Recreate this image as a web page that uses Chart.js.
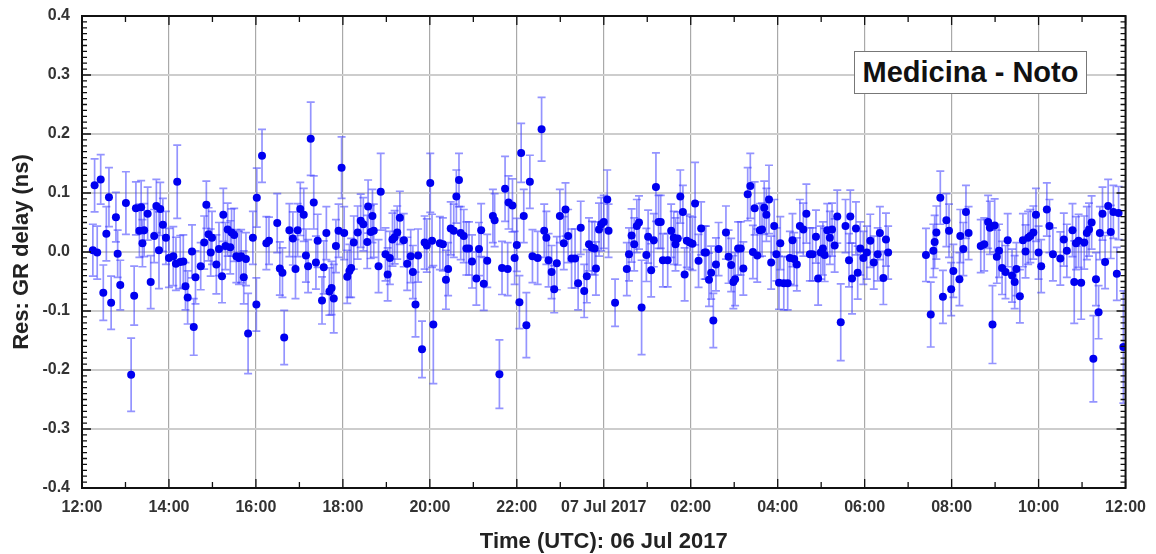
<!DOCTYPE html>
<html>
<head>
<meta charset="utf-8">
<script src="https://cdn.jsdelivr.net/npm/chart.js@4.4.1/dist/chart.umd.min.js"></script>
<style>
  body { margin: 0; background: #fff; }
  #wrap { position: relative; width: 1156px; height: 554px; }
  #baseline {
    position: absolute; left: 854px; top: 51px; width: 233px; height: 43px;
    box-sizing: border-box;
    border: 1.5px solid #777; background: #fff;
    font: bold 29px "Liberation Sans", Arial, sans-serif; color: #111;
    text-align: center; line-height: 40px; white-space: nowrap;
  }
</style>
</head>
<body>
<div id="wrap">
  <canvas id="chart" width="1156" height="554"></canvas>
  <div id="baseline">Medicina - Noto</div>
</div>
<script>
// hours since 06 Jul 2017 12:00 UTC
const timeHours = [
  0.25, 0.29, 0.35, 0.43, 0.49, 0.56, 0.62, 0.67, 0.78, 0.82, 0.88, 1.01, 1.13, 1.20, 1.24, 1.32, 1.36, 1.39, 1.43, 1.51,
  1.58, 1.66, 1.71, 1.77, 1.80, 1.86, 1.93, 2.00, 2.10, 2.16, 2.19, 2.26, 2.33, 2.38, 2.43, 2.53, 2.57, 2.61, 2.73, 2.81,
  2.86, 2.91, 2.96, 2.99, 3.09, 3.15, 3.22, 3.25, 3.30, 3.35, 3.41, 3.44, 3.50, 3.55, 3.61, 3.66, 3.72, 3.77, 3.82, 3.93,
  4.01, 4.02, 4.14, 4.24, 4.30, 4.49, 4.55, 4.61, 4.65, 4.77, 4.85, 4.91, 4.96, 5.02, 5.10, 5.15, 5.20, 5.26, 5.33, 5.38,
  5.42, 5.52, 5.56, 5.62, 5.69, 5.74, 5.79, 5.84, 5.90, 5.97, 6.03, 6.10, 6.15, 6.19, 6.25, 6.34, 6.41, 6.47, 6.56, 6.58,
  6.64, 6.68, 6.71, 6.82, 6.87, 6.98, 7.03, 7.08, 7.14, 7.19, 7.25, 7.31, 7.40, 7.48, 7.56, 7.61, 7.67, 7.73, 7.82, 7.88,
  7.93, 8.01, 8.05, 8.08, 8.23, 8.30, 8.37, 8.42, 8.48, 8.55, 8.61, 8.67, 8.71, 8.78, 8.84, 8.90, 8.97, 9.07, 9.13, 9.18,
  9.24, 9.32, 9.45, 9.49, 9.60, 9.66, 9.73, 9.79, 9.81, 9.90, 9.95, 10.00, 10.06, 10.10, 10.16, 10.22, 10.30, 10.36, 10.48, 10.57,
  10.63, 10.68, 10.73, 10.80, 10.86, 10.92, 10.99, 11.08, 11.12, 11.18, 11.26, 11.34, 11.41, 11.47, 11.55, 11.61, 11.66, 11.73, 11.79, 11.82,
  11.89, 11.94, 12.00, 12.08, 12.11, 12.26, 12.53, 12.58, 12.64, 12.70, 12.76, 12.81, 12.87, 12.98, 13.02, 13.09, 13.15, 13.20, 13.26, 13.31,
  13.36, 13.47, 13.55, 13.61, 13.65, 13.70, 13.76, 13.82, 13.86, 13.91, 13.98, 14.04, 14.10, 14.18, 14.24, 14.32, 14.35, 14.42, 14.47, 14.52,
  14.58, 14.64, 14.81, 14.87, 14.93, 14.98, 15.02, 15.09, 15.15, 15.21, 15.31, 15.37, 15.43, 15.47, 15.53, 15.59, 15.64, 15.69, 15.74, 15.80,
  15.85, 15.92, 15.97, 16.03, 16.06, 16.14, 16.23, 16.28, 16.34, 16.38, 16.44, 16.51, 16.59, 16.66, 16.74, 16.80, 16.88, 16.93, 16.99, 17.04,
  17.08, 17.14, 17.20, 17.25, 17.31, 17.37, 17.45, 17.56, 17.64, 17.67, 17.71, 17.80, 17.84, 17.90, 17.97, 18.05, 18.13, 18.21, 18.30, 18.35,
  18.43, 18.49, 18.54, 19.41, 19.52, 19.58, 19.61, 19.65, 19.74, 19.80, 19.88, 19.94, 19.99, 20.04, 20.18, 20.20, 20.27, 20.33, 20.39, 20.67,
  20.75, 20.84, 20.88, 20.94, 20.99, 21.04, 21.09, 21.16, 21.24, 21.29, 21.39, 21.45, 21.49, 21.57, 21.64, 21.70, 21.76, 21.81, 21.88, 21.94,
  22.00, 22.06, 22.19, 22.25, 22.33, 22.50, 22.58, 22.65, 22.78, 22.82, 22.86, 22.92, 22.98, 23.05, 23.11, 23.16, 23.22, 23.26, 23.32, 23.38,
  23.41, 23.47, 23.53, 23.60, 23.66, 23.72, 23.80, 23.84, 23.95
];

// GR delay residuals (ns)
const residuals = [
  0.003, 0.113, -0.001, 0.123, -0.069, 0.031, 0.093, -0.086, 0.059, -0.003, -0.056, 0.083, -0.208, -0.074, 0.074, 0.036, 0.076, 0.015, 0.037, 0.065,
  -0.051, 0.027, 0.078, 0.003, 0.073, 0.046, 0.024, -0.010, -0.007, -0.020, 0.119, -0.017, -0.016, -0.058, -0.077, 0.001, -0.127, -0.043, -0.024, 0.016,
  0.080, 0.030, -0.001, 0.024, -0.021, 0.005, -0.041, 0.063, 0.010, 0.038, 0.008, 0.033, 0.029, -0.007, -0.010, -0.007, -0.043, -0.012, -0.138, 0.024,
  -0.089, 0.092, 0.163, 0.015, 0.019, 0.049, -0.028, -0.035, -0.145, 0.037, 0.023, -0.029, 0.037, 0.073, 0.063, -0.006, -0.024, 0.192, 0.084, -0.018,
  0.019, -0.082, -0.026, 0.032, -0.067, -0.061, -0.079, 0.010, 0.036, 0.143, 0.032, -0.042, -0.032, -0.027, 0.016, 0.033, 0.053, 0.047, 0.017, 0.077,
  0.034, 0.061, 0.036, -0.024, 0.102, -0.004, -0.038, -0.010, 0.021, 0.025, 0.033, 0.058, 0.020, -0.020, -0.007, -0.034, -0.089, -0.006, -0.165, 0.016,
  0.011, 0.117, 0.019, -0.123, 0.015, 0.013, -0.047, -0.029, 0.040, 0.036, 0.094, 0.122, 0.032, 0.027, 0.006, 0.006, -0.016, -0.045, 0.005, 0.037,
  -0.054, -0.015, 0.061, 0.054, -0.207, -0.027, 0.107, -0.029, 0.084, 0.079, -0.010, 0.012, -0.085, 0.168, 0.061, -0.124, 0.119, -0.007, -0.010, 0.208,
  0.036, 0.024, -0.014, -0.034, -0.063, -0.019, 0.061, 0.015, 0.072, 0.027, -0.011, -0.011, -0.053, 0.041, -0.066, -0.041, 0.013, 0.007, 0.006, -0.028,
  0.038, 0.047, 0.051, 0.089, 0.036, -0.086, -0.029, -0.004, 0.028, 0.013, 0.044, 0.050, -0.094, -0.005, 0.026, -0.031, 0.020, 0.110, 0.051, 0.051,
  -0.014, -0.014, 0.036, 0.024, 0.013, 0.023, 0.094, 0.068, -0.038, 0.019, 0.016, 0.014, 0.082, -0.015, 0.040, -0.001, -0.001, -0.047, -0.035, -0.116,
  -0.021, 0.005, 0.033, -0.008, -0.022, -0.051, -0.046, 0.006, 0.006, -0.028, 0.098, 0.112, 0.000, 0.074, -0.006, 0.037, 0.038, 0.075, 0.063, 0.089,
  -0.018, 0.044, -0.004, -0.052, 0.015, -0.053, -0.053, -0.010, 0.020, -0.012, -0.021, 0.044, 0.038, 0.065, -0.004, -0.004, 0.026, -0.045, -0.001, 0.006,
  -0.005, 0.037, 0.024, 0.038, 0.011, 0.060, -0.119, 0.044, -0.014, 0.060, -0.045, 0.040, -0.035, 0.006, -0.010, -0.001, 0.019, -0.018, -0.004, 0.032,
  -0.044, 0.021, -0.001, -0.005, -0.106, 0.002, 0.017, 0.033, 0.092, -0.076, 0.054, 0.036, -0.063, -0.032, -0.046, 0.027, 0.005, 0.068, 0.032, 0.010,
  0.013, 0.051, 0.041, -0.123, 0.045, -0.008, 0.002, -0.027, -0.034, 0.020, -0.040, -0.051, -0.029, -0.075, 0.020, 0.001, 0.024, 0.027, 0.033, 0.063,
  -0.001, -0.024, 0.072, 0.044, -0.004, -0.011, 0.021, 0.002, 0.037, -0.051, 0.015, 0.019, -0.052, 0.016, 0.032, 0.038, 0.050, -0.181, -0.046, -0.102,
  0.032, 0.065, -0.017, 0.078, 0.034, 0.068, -0.037, 0.066, -0.161
];

// 1-sigma uncertainties (ns)
const errors = [
  0.044, 0.045, 0.045, 0.042, 0.047, 0.046, 0.050, 0.045, 0.042, 0.040, 0.042, 0.053, 0.062, 0.050, 0.045, 0.045, 0.045, 0.040, 0.045, 0.045,
  0.045, 0.045, 0.045, 0.065, 0.045, 0.045, 0.045, 0.050, 0.050, 0.045, 0.062, 0.045, 0.045, 0.040, 0.045, 0.045, 0.048, 0.045, 0.040, 0.045,
  0.040, 0.045, 0.040, 0.045, 0.050, 0.045, 0.045, 0.045, 0.040, 0.045, 0.045, 0.040, 0.045, 0.045, 0.045, 0.045, 0.045, 0.045, 0.068, 0.045,
  0.045, 0.050, 0.045, 0.045, 0.040, 0.050, 0.045, 0.042, 0.046, 0.045, 0.045, 0.050, 0.045, 0.045, 0.045, 0.045, 0.045, 0.062, 0.045, 0.045,
  0.045, 0.040, 0.045, 0.045, 0.040, 0.045, 0.058, 0.045, 0.045, 0.052, 0.045, 0.045, 0.045, 0.050, 0.045, 0.045, 0.045, 0.045, 0.045, 0.045,
  0.045, 0.045, 0.045, 0.045, 0.065, 0.045, 0.045, 0.045, 0.045, 0.045, 0.045, 0.045, 0.045, 0.045, 0.045, 0.045, 0.055, 0.045, 0.048, 0.045,
  0.045, 0.050, 0.045, 0.100, 0.045, 0.045, 0.050, 0.045, 0.045, 0.045, 0.045, 0.045, 0.045, 0.045, 0.045, 0.045, 0.045, 0.045, 0.045, 0.045,
  0.045, 0.045, 0.045, 0.045, 0.058, 0.045, 0.055, 0.045, 0.045, 0.045, 0.045, 0.045, 0.045, 0.050, 0.045, 0.055, 0.045, 0.045, 0.045, 0.054,
  0.045, 0.045, 0.045, 0.045, 0.040, 0.045, 0.045, 0.045, 0.045, 0.045, 0.050, 0.050, 0.045, 0.045, 0.045, 0.045, 0.045, 0.045, 0.045, 0.045,
  0.045, 0.045, 0.045, 0.050, 0.045, 0.040, 0.045, 0.045, 0.045, 0.045, 0.045, 0.045, 0.080, 0.045, 0.045, 0.045, 0.045, 0.058, 0.045, 0.045,
  0.045, 0.045, 0.045, 0.045, 0.045, 0.045, 0.045, 0.045, 0.045, 0.045, 0.045, 0.045, 0.070, 0.045, 0.045, 0.045, 0.045, 0.045, 0.045, 0.046,
  0.045, 0.045, 0.045, 0.045, 0.045, 0.045, 0.045, 0.045, 0.045, 0.045, 0.045, 0.055, 0.045, 0.045, 0.045, 0.045, 0.045, 0.045, 0.045, 0.058,
  0.045, 0.045, 0.045, 0.045, 0.045, 0.045, 0.045, 0.045, 0.045, 0.045, 0.045, 0.045, 0.045, 0.050, 0.045, 0.045, 0.045, 0.045, 0.045, 0.045,
  0.045, 0.045, 0.045, 0.045, 0.045, 0.045, 0.065, 0.045, 0.045, 0.045, 0.060, 0.045, 0.045, 0.045, 0.045, 0.045, 0.045, 0.045, 0.045, 0.045,
  0.045, 0.045, 0.045, 0.045, 0.055, 0.045, 0.045, 0.045, 0.045, 0.045, 0.045, 0.045, 0.045, 0.045, 0.045, 0.045, 0.045, 0.045, 0.045, 0.045,
  0.045, 0.045, 0.045, 0.066, 0.045, 0.045, 0.045, 0.045, 0.045, 0.045, 0.045, 0.045, 0.045, 0.045, 0.045, 0.045, 0.045, 0.045, 0.045, 0.045,
  0.045, 0.045, 0.045, 0.045, 0.045, 0.045, 0.045, 0.045, 0.045, 0.070, 0.045, 0.045, 0.062, 0.045, 0.045, 0.045, 0.045, 0.073, 0.045, 0.045,
  0.045, 0.045, 0.045, 0.045, 0.045, 0.045, 0.045, 0.045, 0.095
];

const xTickLabels = ['12:00', '14:00', '16:00', '18:00', '20:00', '22:00', '07 Jul 2017',
                     '02:00', '04:00', '06:00', '08:00', '10:00', '12:00'];

const points = timeHours.map((t, i) => ({x: t, y: residuals[i]}));

//error bars drawn under the points, from the same scales
const errorBars = {
  id: 'errorBars',
  beforeDatasetsDraw(chart) {
    const {ctx, chartArea, scales: {x, y}} = chart;
    ctx.save();
    ctx.beginPath();
    ctx.rect(chartArea.left, chartArea.top, chartArea.right - chartArea.left, chartArea.bottom - chartArea.top);
    ctx.clip();
    ctx.strokeStyle = 'rgba(60, 60, 255, 0.55)';
    ctx.lineWidth = 1.7;
    timeHours.forEach((t, i) => {
      const px = x.getPixelForValue(t);
      const top = y.getPixelForValue(residuals[i] + errors[i]);
      const bot = y.getPixelForValue(residuals[i] - errors[i]);
      ctx.beginPath();
      ctx.moveTo(px, top); ctx.lineTo(px, bot);
      ctx.moveTo(px - 4, top); ctx.lineTo(px + 4, top);
      ctx.moveTo(px - 4, bot); ctx.lineTo(px + 4, bot);
      ctx.stroke();
    });
    ctx.restore();
  }
};

//black frame with inward tick marks on all four sides
const frame = {
  id: 'frame',
  afterDraw(chart) {
    const {ctx, chartArea: {left, right, top, bottom}, scales: {x, y}} = chart;
    ctx.save();
    ctx.strokeStyle = '#111';
    ctx.lineWidth = 1.3;
    ctx.beginPath();
    for (let h = 0; h <= 24; h++) {
      const px = x.getPixelForValue(h);
      const len = h % 2 === 0 ? 9 : 6;
      ctx.moveTo(px, bottom); ctx.lineTo(px, bottom - len);
      ctx.moveTo(px, top); ctx.lineTo(px, top + len);
    }
    for (let k = -40; k <= 40; k++) {
      const py = y.getPixelForValue(k / 100);
      const len = k % 10 === 0 ? 9 : 5;
      ctx.moveTo(left, py); ctx.lineTo(left + len, py);
      ctx.moveTo(right, py); ctx.lineTo(right - len, py);
    }
    ctx.stroke();
    ctx.lineWidth = 2;
    ctx.strokeRect(left, top, right - left, bottom - top);
    ctx.restore();
  }
};

Chart.defaults.font.family = '"Liberation Sans", Arial, sans-serif';

new Chart(document.getElementById('chart'), {
  type: 'scatter',
  data: {
    datasets: [{
      data: points,
      backgroundColor: '#0000f0',
      borderWidth: 0,
      pointRadius: 4,
      pointHoverRadius: 4
    }]
  },
  options: {
    responsive: false,
    animation: false,
    layout: {padding: {top: 16, right: 24, left: 0, bottom: 0}},
    plugins: {legend: {display: false}, tooltip: {enabled: false}},
    scales: {
      x: {
        type: 'linear',
        min: 0,
        max: 24,
        afterFit: scale => { scale.height = 66; },
        grid: {color: '#a9a9a9', lineWidth: 1.2, drawTicks: false},
        border: {display: false},
        ticks: {
          stepSize: 2,
          autoSkip: false,
          maxRotation: 0,
          padding: 10,
          color: '#333',
          font: {size: 16, weight: 'bold'},
          callback: v => xTickLabels[Math.round(v / 2)]
        },
        title: {
          display: true,
          text: 'Time (UTC): 06 Jul 2017',
          color: '#222',
          font: {size: 22, weight: 'bold'},
          padding: {top: 0, bottom: -1}
        }
      },
      y: {
        min: -0.4,
        max: 0.4,
        afterFit: scale => {
          scale.width = 82;
          scale.paddingTop = 0;
          scale.paddingBottom = 0;
        },
        grid: {color: '#cdcdcd', lineWidth: 2, drawTicks: false},
        border: {display: false},
        ticks: {
          stepSize: 0.1,
          padding: 12,
          color: '#333',
          font: {size: 16, weight: 'bold'},
          callback: v => Math.abs(v) < 1e-9 ? '0.0' : v.toFixed(1)
        },
        title: {
          display: true,
          text: 'Res: GR delay (ns)',
          color: '#222',
          font: {size: 22, weight: 'bold'},
          padding: {top: 9, bottom: 0}
        }
      }
    }
  },
  plugins: [errorBars, frame]
});
</script>
</body>
</html>
